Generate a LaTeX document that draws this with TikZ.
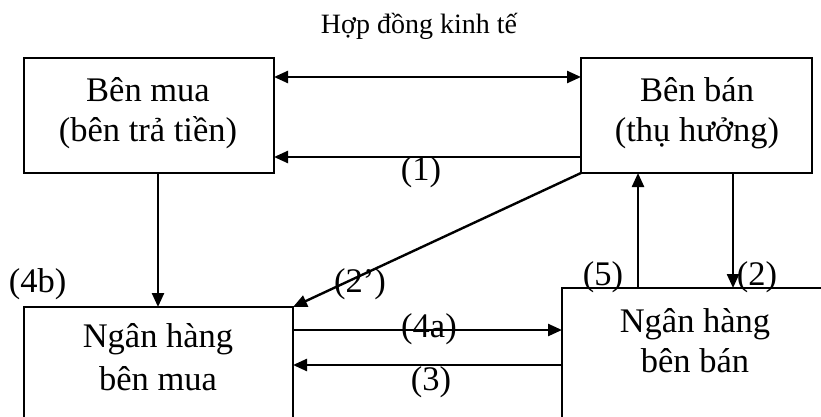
\documentclass[tikz,border=0pt]{standalone}
\usepackage{fontspec}
\setmainfont{Liberation Serif}
\usetikzlibrary{arrows.meta,calc}
\tikzset{
  box/.style={draw, line width=2.2pt, rectangle, outer sep=0pt, inner sep=0pt},
  conn/.style={line width=2.4pt, -{Triangle[length=14pt,width=12pt]}},
  dconn/.style={line width=2.4pt, {Triangle[length=14pt,width=12pt]}-{Triangle[length=14pt,width=12pt]}},
  txt/.style={anchor=base, inner sep=0pt, font=\fontsize{34.5}{40}\selectfont},
  lbl/.style={anchor=base, inner sep=0pt, font=\fontsize{34.5}{40}\selectfont},
  ttl/.style={anchor=base, inner sep=0pt, font=\fontsize{28}{32}\selectfont}
}
\begin{document}
\begin{tikzpicture}[x=1pt,y=1pt]
\useasboundingbox (0,0) rectangle (821,-417);
\clip (0,0) rectangle (821,-417);
\fill[white] (0,0) rectangle (821,-417);
% boxes
\node[box, minimum width=250pt, minimum height=115pt] (b1) at (149,-115.5) {};
\node[box, minimum width=231pt, minimum height=115pt] (b2) at (696.5,-115.5) {};
\node[box, minimum width=269pt, minimum height=150pt] (b3) at (158.5,-382) {};
\node[box, minimum width=308pt, minimum height=170pt] (b4) at (716,-373) {};
% box texts
\node[txt] (t1a) at (148,-102) {Bên mua};
\node[txt] (t1b) at (148,-142) {(bên trả tiền)};
\node[txt] (t2a) at (697,-102) {Bên bán};
\node[txt] (t2b) at (697,-142) {(thụ hưởng)};
\node[txt] (t3a) at (158,-347) {Ngân hàng};
\node[txt] (t3b) at (158,-390) {bên mua};
\node[txt] (t4a) at (695,-332) {Ngân hàng};
\node[txt] (t4b) at (695,-372) {bên bán};
% title
\node[ttl] (title) at (419,-34) {Hợp đồng kinh tế};
% connectors
\draw[dconn] (b1.east |- 0,-77) -- (b2.west |- 0,-77);
\draw[conn] (b2.west |- 0,-157) -- (b1.east |- 0,-157);
\draw[conn] (b1.south -| 158,0) -- (b3.north -| 158,0);
\draw[conn] (b2.south west) -- (b3.north east);
\draw[conn] (b3.east |- 0,-330) -- (b4.west |- 0,-330);
\draw[conn] (b4.west |- 0,-365) -- (b3.east |- 0,-365);
\draw[conn] (b4.north -| 638,0) -- (b2.south -| 638,0);
\draw[conn] (b2.south -| 733,0) -- (b4.north -| 733,0);
% labels
\node[lbl] (l1) at (421,-180) {(1)};
\node[lbl] (l4b) at (37.5,-292) {(4b)};
\node[lbl] (l2p) at (360,-292) {(2’)};
\node[lbl] (l4a) at (429,-337) {(4a)};
\node[lbl] (l3) at (431,-390) {(3)};
\node[lbl] (l5) at (603,-285) {(5)};
\node[lbl] (l2) at (757,-285) {(2)};
\end{tikzpicture}
\end{document}
